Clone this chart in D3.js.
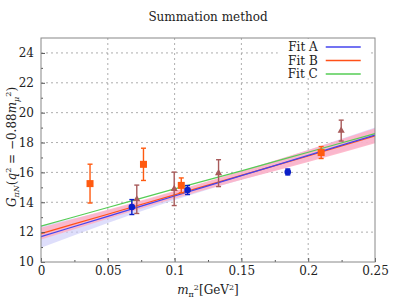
<!DOCTYPE html>
<html>
<head>
<meta charset="utf-8">
<script src="https://cdn.jsdelivr.net/npm/d3@7"></script>
<style>
  body { margin: 0; background: #fff; }
  text { font-family: "DejaVu Serif", serif; fill: #222; }
</style>
</head>
<body>
<svg width="399" height="299"></svg>
<script>
const svg = d3.select("svg")

// data
const xTicks = [0, 0.05, 0.1, 0.15, 0.2, 0.25]
const yTicks = [10, 12, 14, 16, 18, 20, 22, 24]

// fit curves sampled at the major x ticks
const fitX = [0, 0.05, 0.1, 0.15, 0.2, 0.25]
const fitA = [11.7, 13.06, 14.42, 15.78, 17.14, 18.5]
const fitALow = [10.95, 12.62, 14.15, 15.5, 16.75, 18.0]
const fitAHigh = [12.45, 13.45, 14.7, 16.05, 17.5, 19.0]
const fitB = [11.9, 13.2, 14.5, 15.8, 17.1, 18.45]
const fitBLow = [11.5, 12.9, 14.25, 15.5, 16.7, 17.95]
const fitBHigh = [12.3, 13.5, 14.75, 16.1, 17.5, 18.95]
const fitC = [12.4, 13.65, 14.9, 16.1, 17.35, 18.6]

// data points: [m_pi^2, G, error]
const orangePts = [[0.0367, 15.25, 1.3], [0.0767, 16.54, 1.08], [0.105, 15.13, 0.5], [0.2097, 17.33, 0.4]]
const bluePts = [[0.068, 13.68, 0.5], [0.1097, 14.82, 0.3], [0.1847, 16.03, 0.2]]
const brownPts = [[0.0717, 14.2, 0.95], [0.0997, 14.9, 1.12], [0.1329, 15.95, 0.9], [0.2247, 18.8, 0.7]]

const legendNames = ["Fit A", "Fit B", "Fit C"]

const colA = "#4444ee"
const colB = "#ff5018"
const colC = "#55cc55"

const margin = { top: 38, right: 24, bottom: 37, left: 41 }
const width = 399 - margin.left - margin.right
const height = 299 - margin.top - margin.bottom

const x = d3.scaleLinear().domain([0, 0.25]).range([0, width])
const y = d3.scaleLinear().domain([10, 25]).range([height, 0])

const g = svg.append("g")
  .attr("transform", "translate(" + margin.left + "," + margin.top + ")")

// grid
g.append("g").selectAll("line").data(xTicks.slice(1, -1)).join("line")
  .attr("x1", d => x(d)).attr("x2", d => x(d))
  .attr("y1", 0).attr("y2", height)
  .attr("stroke", "#999").attr("stroke-dasharray", "2,3").attr("stroke-width", 0.8)
g.append("g").selectAll("line").data(yTicks.slice(1)).join("line")
  .attr("x1", 0).attr("x2", width)
  .attr("y1", d => y(d)).attr("y2", d => y(d))
  .attr("stroke", "#999").attr("stroke-dasharray", "2,3").attr("stroke-width", 0.8)

// bands
const idx = d3.range(fitX.length)
const area = (lo, hi) => d3.area()
  .x(i => x(fitX[i])).y0(i => y(lo[i])).y1(i => y(hi[i]))
  .curve(d3.curveMonotoneX)

g.append("path").attr("d", area(fitALow, fitAHigh)(idx))
  .attr("fill", "#c8c8f8").attr("opacity", 0.6)
g.append("path").attr("d", area(fitBLow, fitBHigh)(idx))
  .attr("fill", "#ffb0c4").attr("opacity", 0.85)

// fit lines
const line = vals => d3.line().x(i => x(fitX[i])).y(i => y(vals[i])).curve(d3.curveMonotoneX)
g.append("path").attr("d", line(fitC)(idx)).attr("fill", "none").attr("stroke", colC).attr("stroke-width", 1.2)
g.append("path").attr("d", line(fitB)(idx)).attr("fill", "none").attr("stroke", colB).attr("stroke-width", 1.2)
g.append("path").attr("d", line(fitA)(idx)).attr("fill", "none").attr("stroke", colA).attr("stroke-width", 1.2)

// error bars
function errBars(pts, color) {
  const eb = g.append("g").attr("stroke", color).attr("stroke-width", 1.4)
  pts.forEach(([px, py, e]) => {
    eb.append("line").attr("x1", x(px)).attr("x2", x(px)).attr("y1", y(py - e)).attr("y2", y(py + e))
    eb.append("line").attr("x1", x(px) - 2.5).attr("x2", x(px) + 2.5).attr("y1", y(py - e)).attr("y2", y(py - e))
    eb.append("line").attr("x1", x(px) - 2.5).attr("x2", x(px) + 2.5).attr("y1", y(py + e)).attr("y2", y(py + e))
  })
}
errBars(brownPts, "#a85a5a")
errBars(orangePts, "#ff5a10")
errBars(bluePts, "#0a1ec8")

g.selectAll("path.tri").data(brownPts).join("path")
  .attr("class", "tri")
  .attr("d", d3.symbol(d3.symbolTriangle, 22))
  .attr("transform", d => "translate(" + x(d[0]) + "," + y(d[1]) + ")")
  .attr("fill", "#a85a5a")
g.selectAll("rect.sq").data(orangePts).join("rect")
  .attr("class", "sq")
  .attr("x", d => x(d[0]) - 3.5).attr("y", d => y(d[1]) - 3.5)
  .attr("width", 7).attr("height", 7)
  .attr("fill", "#ff5a10")
g.selectAll("circle.bl").data(bluePts).join("circle")
  .attr("class", "bl")
  .attr("cx", d => x(d[0])).attr("cy", d => y(d[1])).attr("r", 3.3)
  .attr("fill", "#0a1ec8")

// legend
const leg = g.append("g").attr("transform", "translate(" + (x(0.1772)) + ",0)")
leg.append("rect").attr("x", 0).attr("y", 1).attr("width", 91).attr("height", 38).attr("fill", "#fff")
const legCols = [colA, colB, colC]
legendNames.forEach((name, i) => {
  const ly = 9 + i * 13.5
  leg.append("text").text(name).attr("x", 40).attr("y", ly + 4)
    .attr("text-anchor", "end").style("font-size", "12px")
  leg.append("line").attr("x1", 48).attr("x2", 83).attr("y1", ly).attr("y2", ly)
    .attr("stroke", legCols[i]).attr("stroke-width", 1.3)
})

// axes (ticks inward)
const xAxis = g.append("g").attr("transform", "translate(0," + height + ")")
  .call(d3.axisBottom(x).tickValues(xTicks).tickSize(-4).tickPadding(4).tickFormat(d => d === 0 ? "0" : String(d)))
const xMinor = g.append("g").attr("transform", "translate(0," + height + ")")
  .call(d3.axisBottom(x).tickValues(d3.range(0.025, 0.25, 0.05)).tickSize(-2).tickFormat(""))
const yAxis = g.append("g")
  .call(d3.axisLeft(y).tickValues(yTicks).tickSize(-4).tickPadding(7))
const yMinor = g.append("g")
  .call(d3.axisLeft(y).tickValues(d3.range(11, 25, 2)).tickSize(-2).tickFormat(""))
;[xAxis, xMinor, yAxis, yMinor].forEach(a => {
  a.select(".domain").remove()
  a.selectAll("line").attr("stroke", "#555")
  a.selectAll("text").style("font-size", "12px").style("font-family", "\"DejaVu Serif\", serif").attr("fill", "#222")
})

// frame
g.append("rect").attr("width", width).attr("height", height)
  .attr("fill", "none").attr("stroke", "#888").attr("stroke-width", 1)

// title
svg.append("text").text("Summation method")
  .attr("x", margin.left + width / 2).attr("y", 21)
  .attr("text-anchor", "middle").style("font-size", "12px")

// x label
const xl = svg.append("text").attr("x", margin.left + width / 2).attr("y", 294)
  .attr("text-anchor", "middle").style("font-size", "12px")
xl.append("tspan").text("m").style("font-style", "italic")
xl.append("tspan").text("π").attr("dy", 3).style("font-size", "8px")
xl.append("tspan").text("2").attr("dy", -7).style("font-size", "8px")
xl.append("tspan").text("[GeV").attr("dy", 4)
xl.append("tspan").text("2").attr("dy", -4).style("font-size", "8px")
xl.append("tspan").text("]").attr("dy", 4)

// y label
const yl = svg.append("text")
  .attr("transform", "translate(16," + (margin.top + height / 2 - 3) + ") rotate(-90)")
  .attr("text-anchor", "middle").style("font-size", "12px")
yl.append("tspan").text("G").style("font-style", "italic")
yl.append("tspan").text("πN").attr("dy", 3).style("font-size", "8px").style("font-style", "italic")
yl.append("tspan").text("(").attr("dy", -3)
yl.append("tspan").text("q").style("font-style", "italic")
yl.append("tspan").text("2").attr("dy", -5).style("font-size", "8px")
yl.append("tspan").text(" = −0.88").attr("dy", 5)
yl.append("tspan").text("m").style("font-style", "italic")
yl.append("tspan").text("μ").attr("dy", 3).style("font-size", "8px").style("font-style", "italic")
yl.append("tspan").text("2").attr("dy", -8).style("font-size", "8px")
yl.append("tspan").text(")").attr("dy", 5)
</script>
</body>
</html>
